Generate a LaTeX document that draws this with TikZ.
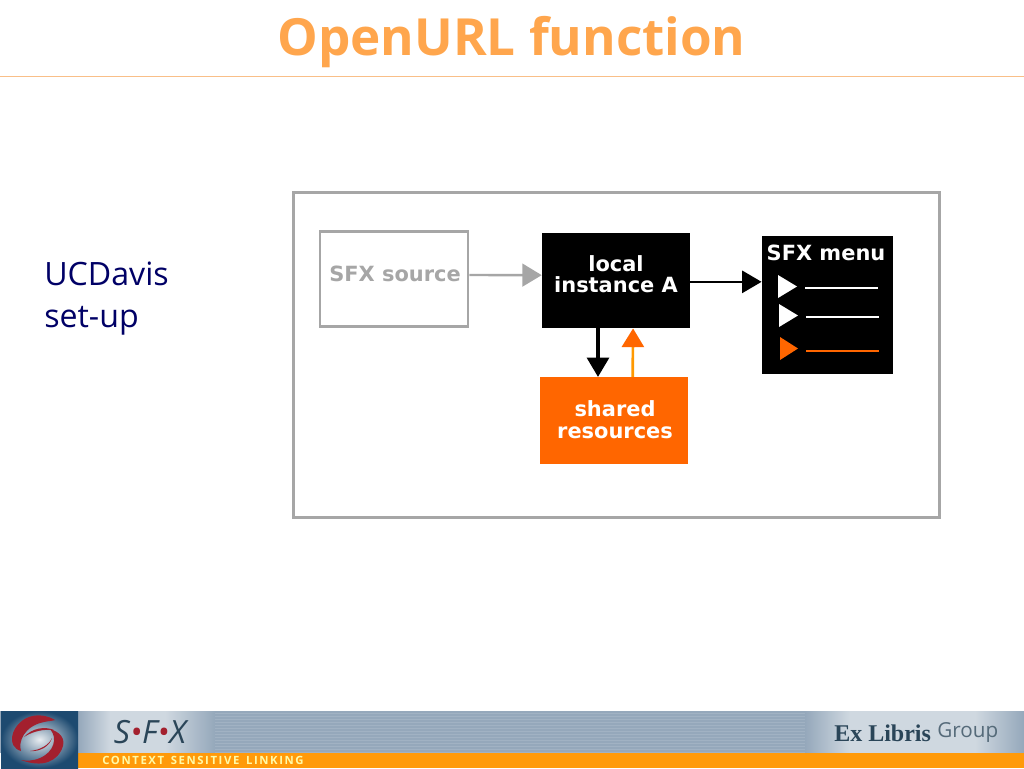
\documentclass[tikz,border=0pt]{standalone}
\usepackage{fontspec}
\setmainfont{Open Sans}
\newfontfamily\diagfont{DejaVu Sans}
\newfontfamily\serifb{Liberation Serif}
\newfontfamily\spacedfont[LetterSpace=14]{Open Sans}
\usetikzlibrary{arrows.meta,calc}
\definecolor{titleor}{HTML}{FFA64D}
\definecolor{ruleor}{HTML}{F9BF88}
\definecolor{navy}{HTML}{000066}
\definecolor{boxgrey}{HTML}{A6A6A6}
\definecolor{sharedor}{HTML}{FF6600}
\definecolor{shaftor}{HTML}{FF9900}
\definecolor{band}{HTML}{95A8BB}
\definecolor{bandlight}{HTML}{CFD8E0}
\definecolor{footor}{HTML}{FF9A0A}
\definecolor{logored}{HTML}{A3202E}
\definecolor{logoout}{HTML}{1D4A70}
\definecolor{inkblue}{HTML}{2A4558}
\tikzset{
  x=0.75pt,y=-0.75pt,
  difftext/.style={inner sep=0pt,font=\diagfont\bfseries\fontsize{15.7}{16}\selectfont},
  whitetext/.style={difftext,text=white},
  plainbox/.style={inner sep=0pt},
  conn/.style={line width=1.8pt},
  greyhead/.style={-{Triangle[length=14.5pt,width=17pt,color=boxgrey]}},
  blackhead/.style={-{Triangle[length=14.5pt,width=16.5pt,color=black]}},
  orhead/.style={-{Triangle[length=14pt,width=16.5pt,color=sharedor]}},
}
\begin{document}
\begin{tikzpicture}
\useasboundingbox (0,0) rectangle (1024,768);
\fill[white] (0,0) rectangle (1024,768);
% title
\node[inner sep=0pt,text=titleor,font=\bfseries\fontsize{38.4}{40}\selectfont] (title) at (511.5,42.5) {OpenURL function};
\coordinate (ruleL) at (0,76.5);
\coordinate (ruleR) at (1024,76.5);
\draw[ruleor,line width=0.8pt] (ruleL) -- (ruleR);
% left label
\node[inner sep=0pt,anchor=north west,align=left,text=navy,font=\fontsize{24.1}{31}\selectfont] (lab) at (44,262) {UCDavis\\set-up};
% frame
\node[plainbox,draw=boxgrey,line width=2.2pt,minimum width=485pt,minimum height=244pt,fill=white] (frame) at (616.5,355) {};
% boxes
\node[plainbox,draw=boxgrey,line width=2.2pt,minimum width=111pt,minimum height=71pt] (src) at (394,279) {};
\node[plainbox,fill=black,minimum width=111pt,minimum height=71.5pt] (inst) at (616,280.5) {};
\node[plainbox,fill=sharedor,minimum width=111pt,minimum height=65pt] (shared) at (614,420.5) {};
\node[plainbox,fill=black,minimum width=98.5pt,minimum height=103.5pt] (menu) at (827.5,305) {};
% box texts
\node[difftext,text=boxgrey] (srct) at (395,274) {SFX source};
\node[whitetext] (l1) at (616,264) {local};
\node[whitetext] (l2) at (616,285) {instance A};
\node[whitetext] (s1) at (615,409) {shared};
\node[whitetext] (s2) at (615,433) {resources};
\node[whitetext] (menut) at (826,253) {SFX menu};
% connectors
\draw[boxgrey,conn,greyhead] ([yshift=3pt]src.east) -- ([yshift=4pt]inst.west);
\draw[black,conn,blackhead] ([yshift=-1pt]inst.east) -- ([yshift=-1pt]menu.west |- inst.east);
\draw[black,line width=2.4pt,blackhead] ($(inst.south)+(-13.5pt,0)$) -- ($(shared.north)+(-12pt,0)$);
\draw[shaftor,line width=2pt,orhead] ($(shared.north)+(14pt,0)$) -- ($(inst.south)+(12.8pt,0)$);
% menu entries
\fill[white] (778,275) -- (797,286.5) -- (778,298) -- cycle;
\draw[white,line width=1.5pt] (805,288) -- (878,288);
\fill[white] (779,304) -- (798,315.5) -- (779,327) -- cycle;
\draw[white,line width=1.5pt] (806,317) -- (879,317);
\fill[sharedor] (780,337) -- (798,348.5) -- (780,360) -- cycle;
\draw[sharedor,line width=1.5pt] (806,350.5) -- (879,350.5);
% footer band
\fill[band] (0,711) rectangle (1024,753);
\shade[left color=band,right color=bandlight] (78,711) rectangle (110,753);
\fill[bandlight] (110,711) rectangle (165,753);
\shade[left color=bandlight,right color=band] (165,711) rectangle (215,753);
\shade[left color=band,right color=bandlight] (805,711) rectangle (850,753);
\fill[bandlight] (850,711) rectangle (975,753);
\shade[left color=bandlight,right color=band] (975,711) rectangle (1024,753);
\foreach \yy in {713,716,...,752}{
  \draw[white,opacity=.12,line width=.6pt] (215,\yy) -- (805,\yy);
}
\fill[footor] (78,753) rectangle (1024,768);
\node[inner sep=0pt,text=inkblue,font=\itshape\fontsize{24}{24}\selectfont] (sfx) at (150,732) {S{\color{logored}\textbullet}F{\color{logored}\textbullet}X};
\node[inner sep=0pt,text=yellow!35!white,font=\spacedfont\bfseries\fontsize{8.5}{9}\selectfont] (ctx) at (203,760) {CONTEXT\hspace{5pt}SENSITIVE\hspace{5pt}LINKING};
\node[inner sep=0pt,anchor=west,text=inkblue,font=\serifb\bfseries\fontsize{18}{18}\selectfont] (exl) at (834,733) {Ex Libris};
\node[inner sep=0pt,anchor=west,text=inkblue!80!white,font=\fontsize{15.5}{16}\selectfont] (grp) at (937,732) {Group};
% logo
\fill[logoout] (1,711) rectangle (78,768);
\shade[inner color=white!90!logoout,outer color=logoout] (1,711) rectangle (78,768);
\fill[logored] (55,720) .. controls (40,711) and (20,715) .. (13,733) .. controls (10,743) and (14,749) .. (21,751)
  .. controls (18,742) and (24,726) .. (44,722) .. controls (48,721) and (52,721) .. cycle;
\fill[logored] (24,737) .. controls (32,728) and (45,726) .. (54,730) .. controls (44,729) and (33,731) .. cycle;
\fill[logored] (21,760) .. controls (42,768) and (58,762) .. (63,746) .. controls (65,738) and (60,732) .. (50,729)
  .. controls (58,738) and (54,752) .. (40,758) .. controls (33,761) and (27,761) .. cycle;
\fill[logored] (30,751) .. controls (40,752) and (50,746) .. (52,738) .. controls (49,745) and (40,750) .. cycle;
\end{tikzpicture}
\end{document}
